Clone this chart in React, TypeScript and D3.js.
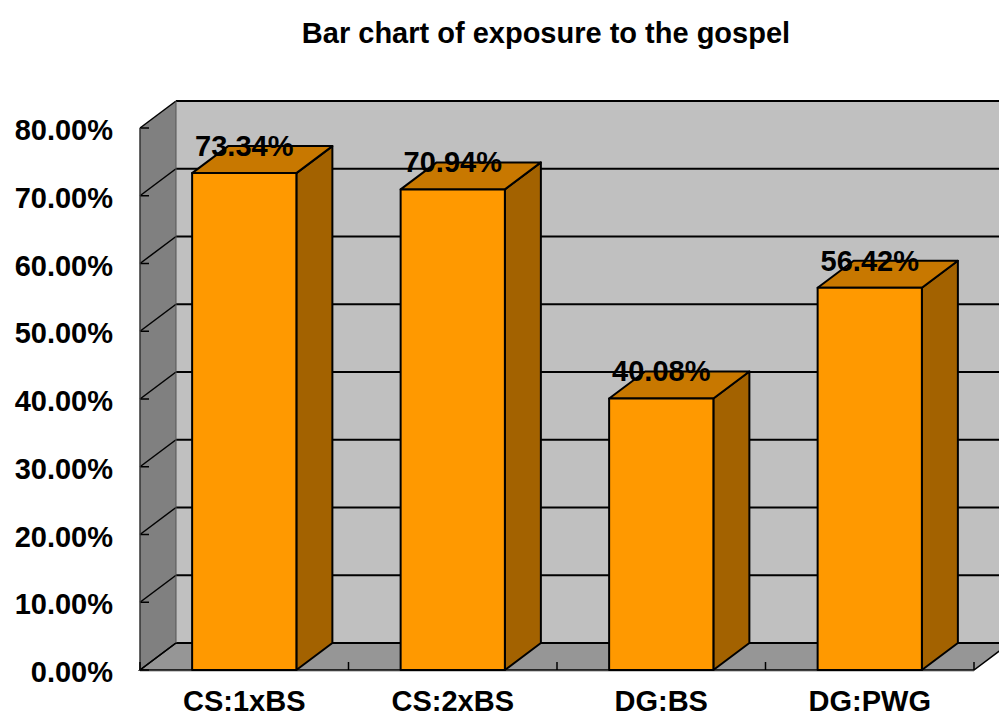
import React from "react";
import * as d3 from "d3";

const categories = ["CS:1xBS", "CS:2xBS", "DG:BS", "DG:PWG"];
const values = [73.34, 70.94, 40.08, 56.42];
const yTicks = [0, 10, 20, 30, 40, 50, 60, 70, 80];
const title = "Bar chart of exposure to the gospel";

const W = 999;
const H = 718;
const FONT = "Arial, 'Liberation Sans', Helvetica, sans-serif";

// front plane of the 3D box and depth offset
const X0 = 140;
const X1 = 974;
const DX = 36;
const DY = -27;

const COLORS = {
  backWall: "#c0c0c0",
  sideWall: "#808080",
  floor: "#969696",
  front: "#ff9900",
  top: "#c87800",
  side: "#a36200",
};

const y = d3.scaleLinear().domain([0, 80]).range([670, 128]);
const x = d3
  .scaleBand<string>()
  .domain(categories)
  .range([X0, X1])
  .paddingInner(0.5)
  .paddingOuter(0.25);

const pts = (p: [number, number][]) => p.map((q) => q.join(",")).join(" ");

export default function App() {
  const yTop = y(80);
  const yBot = y(0);
  const step = x.step();
  const bw = x.bandwidth();
  const boundaries = d3.range(categories.length + 1).map((i) => X0 + i * step);

  return (
    <svg
      width={W}
      height={H}
      style={{ position: "absolute", left: 0, top: 0, background: "#fff" }}
    >
      <text
        x={546}
        y={43}
        textAnchor="middle"
        fontFamily={FONT}
        fontWeight="bold"
        fontSize={29}
      >
        {title}
      </text>

      {/* back wall */}
      <rect
        x={X0 + DX}
        y={yTop + DY}
        width={X1 - X0}
        height={yBot - yTop}
        fill={COLORS.backWall}
      />
      {/* left wall */}
      <polygon
        points={pts([
          [X0, yTop],
          [X0 + DX, yTop + DY],
          [X0 + DX, yBot + DY],
          [X0, yBot],
        ])}
        fill={COLORS.sideWall}
      />
      {/* floor */}
      <polygon
        points={pts([
          [X0, yBot],
          [X1, yBot],
          [X1 + DX, yBot + DY],
          [X0 + DX, yBot + DY],
        ])}
        fill={COLORS.floor}
        stroke="#000"
        strokeWidth={1.5}
      />
      <line x1={X0} x2={X1} y1={yBot + 1.5} y2={yBot + 1.5} stroke="#c8c8c8" strokeWidth={1} />

      {/* gridlines on the back and left walls */}
      {yTicks.map((t) => (
        <g key={t}>
          <line
            x1={X0 + DX}
            x2={X1 + DX}
            y1={y(t) + DY}
            y2={y(t) + DY}
            stroke="#000"
            strokeWidth={2}
          />
          <line
            x1={X0}
            x2={X0 + DX}
            y1={y(t)}
            y2={y(t) + DY}
            stroke="#000"
            strokeWidth={1.5}
          />
          <line
            x1={X0}
            x2={X0 + 9}
            y1={y(t)}
            y2={y(t)}
            stroke="#000"
            strokeWidth={1.5}
          />
          <text
            x={113}
            y={y(t) + 12}
            textAnchor="end"
            fontFamily={FONT}
            fontWeight="bold"
            fontSize={29}
          >
            {t.toFixed(2)}%
          </text>
        </g>
      ))}

      {/* wall outlines */}
      <line x1={X0 + DX} x2={X0 + DX} y1={yTop + DY} y2={yBot + DY} stroke="#555" strokeWidth={1} />
      <line x1={X0} x2={X0} y1={yTop} y2={yBot} stroke="#333" strokeWidth={1.5} />

      {/* category ticks on the floor edge */}
      {boundaries.map((bx, i) => (
        <line key={i} x1={bx} x2={bx} y1={yBot - 8} y2={yBot} stroke="#000" strokeWidth={1.5} />
      ))}

      {/* bars */}
      {categories.map((c, i) => {
        const bx = x(c)!;
        const top = y(values[i]);
        return (
          <g key={c} stroke="#000" strokeWidth={2} strokeLinejoin="round">
            <polygon
              points={pts([
                [bx + bw, top],
                [bx + bw + DX, top + DY],
                [bx + bw + DX, yBot + DY],
                [bx + bw, yBot],
              ])}
              fill={COLORS.side}
            />
            <polygon
              points={pts([
                [bx, top],
                [bx + DX, top + DY],
                [bx + bw + DX, top + DY],
                [bx + bw, top],
              ])}
              fill={COLORS.top}
            />
            <rect x={bx} y={top} width={bw} height={yBot - top} fill={COLORS.front} />
          </g>
        );
      })}

      {/* value labels */}
      {categories.map((c, i) => (
        <text
          key={c}
          x={x(c)! + bw / 2}
          y={y(values[i]) - 17}
          textAnchor="middle"
          fontFamily={FONT}
          fontWeight="bold"
          fontSize={29}
        >
          {values[i].toFixed(2)}%
        </text>
      ))}

      {/* category labels */}
      {categories.map((c) => (
        <text
          key={c}
          x={x(c)! + bw / 2}
          y={711}
          textAnchor="middle"
          fontFamily={FONT}
          fontWeight="bold"
          fontSize={29}
        >
          {c}
        </text>
      ))}
    </svg>
  );
}
